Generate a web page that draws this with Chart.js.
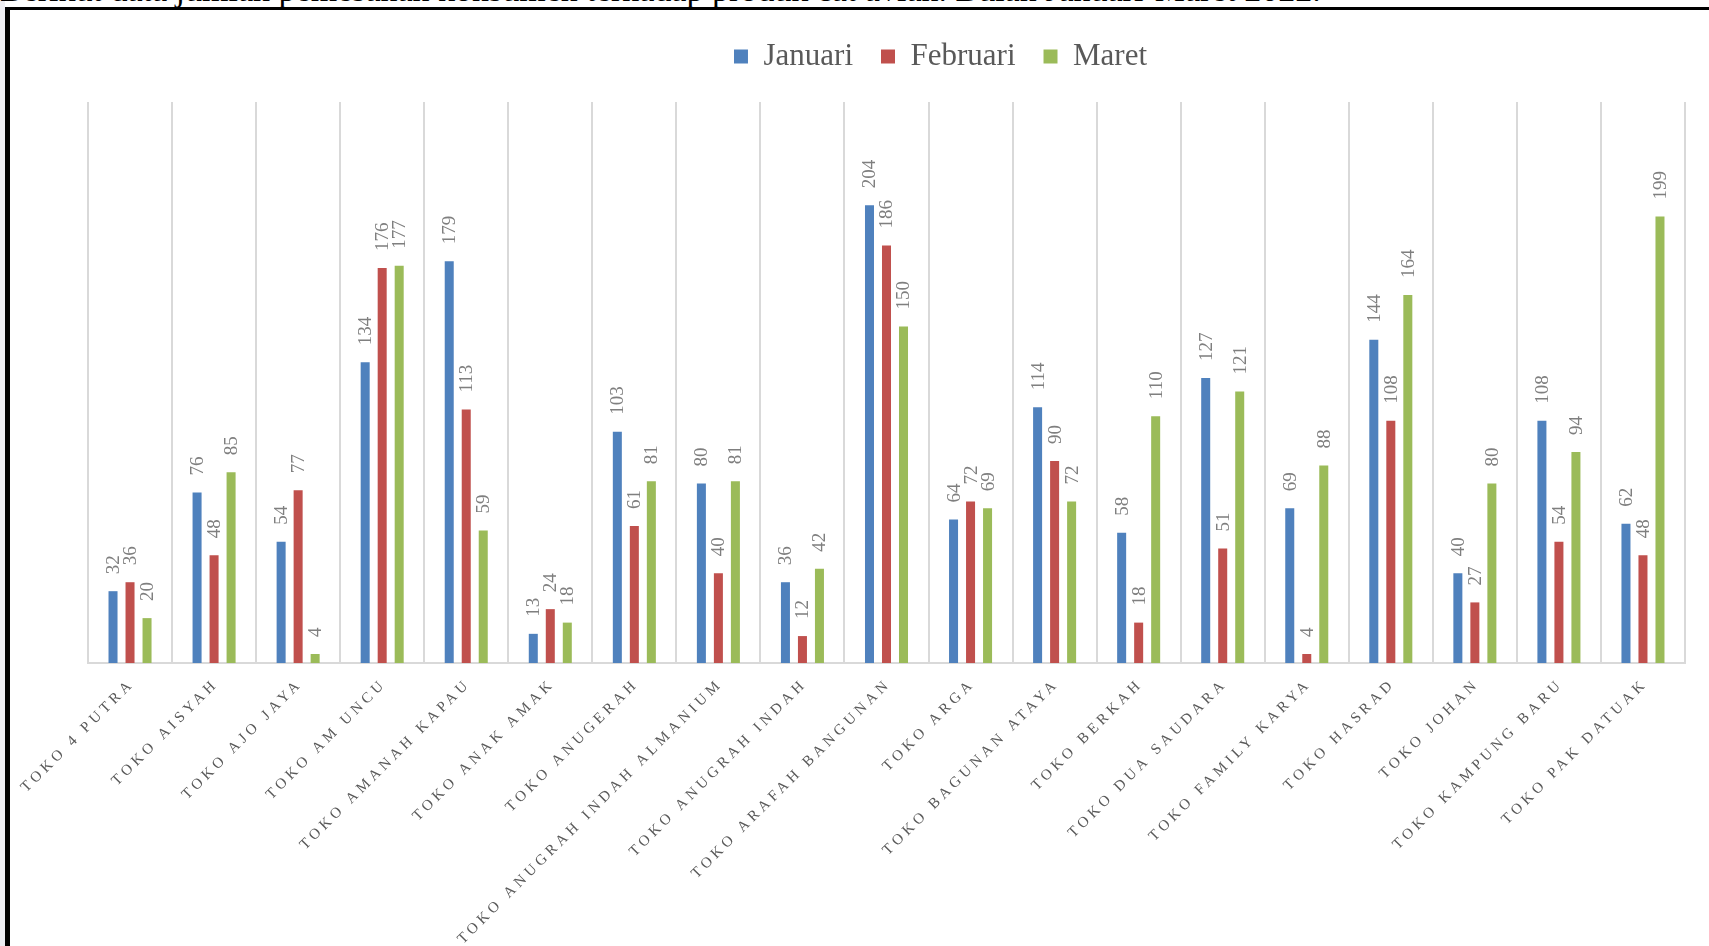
<!DOCTYPE html>
<html>
<head>
<meta charset="utf-8">
<script src="https://cdn.jsdelivr.net/npm/chart.js@4"></script>
<style>
    html, body { margin: 0; padding: 0; width: 1709px; height: 946px; overflow: hidden; background: #ffffff; }
    #leftStrip { position: absolute; left: 0; top: 0; width: 5px; height: 946px; background: #ededf2; }
    #topText { position: absolute; left: 0; top: -27px; white-space: nowrap; font-family: 'Liberation Serif', 'Times New Roman', serif; font-size: 34px; line-height: 34px; color: #000; }
    #frame { position: absolute; left: 5px; top: 7px; width: 1704px; height: 939px; border-left: 5px solid #000; border-top: 3px solid #000; box-sizing: border-box; background: #fff; }
    #chartBox { position: absolute; left: 10px; top: 10px; width: 1699px; height: 936px; }
</style>
</head>
<body>
<div id="leftStrip"></div>
<div id="topText">Berikut data jumlah pemesanan konsumen terhadap produk cat avian. Bulan Januari-Maret 2022.</div>
<div id="frame"></div>
<div id="chartBox"><canvas id="chart1" width="1699" height="936"></canvas></div>
<script>
var serifFont = "'Liberation Serif', 'Times New Roman', serif";
var labelGray = "#595959";
var valueGray = "#7f7f7f";

//Categories (stores)
var storeLabels = [
    "TOKO 4 PUTRA", "TOKO AISYAH", "TOKO AJO JAYA", "TOKO AM UNCU", "TOKO AMANAH KAPAU",
    "TOKO ANAK AMAK", "TOKO ANUGERAH", "TOKO ANUGRAH INDAH ALMANIUM", "TOKO ANUGRAH INDAH",
    "TOKO ARAFAH BANGUNAN", "TOKO ARGA", "TOKO BAGUNAN ATAYA", "TOKO BERKAH", "TOKO DUA SAUDARA",
    "TOKO FAMILY KARYA", "TOKO HASRAD", "TOKO JOHAN", "TOKO KAMPUNG BARU", "TOKO PAK DATUAK"
];

//Series values
var januariData = [32, 76, 54, 134, 179, 13, 103, 80, 36, 204, 64, 114, 58, 127, 69, 144, 40, 108, 62];
var februariData = [36, 48, 77, 176, 113, 24, 61, 40, 12, 186, 72, 90, 18, 51, 4, 108, 27, 54, 48];
var maretData = [20, 85, 4, 177, 59, 18, 81, 81, 42, 150, 69, 72, 110, 121, 88, 164, 80, 94, 199];

var seriesNames = ["Januari", "Februari", "Maret"];
var seriesColors = ["#4f81bd", "#c0504d", "#9bbb59"];

//Hidden value axis range
var yMin = 0;
var yMax = 250;

/**
 * Draw the value of each bar, rotated, above the bar
 */
var valueLabelsPlugin = {
    id: "valueLabels",
    afterDatasetsDraw: function(chart){
        var ctx = chart.ctx;
        chart.data.datasets.forEach((dataset, i) => {
            var meta = chart.getDatasetMeta(i);
            meta.data.forEach((bar, j) => {
                ctx.save();
                ctx.translate(bar.x + 1, bar.y - 17);
                ctx.rotate(-Math.PI / 2);
                ctx.font = "19px " + serifFont;
                ctx.fillStyle = valueGray;
                ctx.textAlign = "left";
                ctx.textBaseline = "middle";
                ctx.fillText(String(dataset.data[j]), 0, 0);
                ctx.restore();
            });
        });
    }
};

/**
 * Draw the store names under the axis at 45 degrees with letter spacing
 */
var storeLabelsPlugin = {
    id: "storeLabels",
    afterDraw: function(chart){
        var ctx = chart.ctx;
        var xScale = chart.scales.x;
        var spacing = 4;
        storeLabels.forEach((label, i) => {
            var x = xScale.getPixelForValue(i);
            ctx.save();
            ctx.translate(x - 6, chart.chartArea.bottom + 16);
            ctx.rotate(-Math.PI / 4);
            ctx.font = "15px " + serifFont;
            ctx.letterSpacing = spacing + "px";
            ctx.fillStyle = labelGray;
            ctx.textAlign = "right";
            ctx.textBaseline = "top";
            ctx.fillText(label, spacing, 0);
            ctx.restore();
        });
    }
};

/**
 * Move the legend, the chart is wider than the visible window
 */
var legendShiftPlugin = {
    id: "legendShift",
    afterLayout: function(chart){
        var shiftX = 54;
        var shiftY = -20;
        chart.legend.left += shiftX;
        chart.legend.right += shiftX;
        chart.legend.top += shiftY;
        chart.legend.bottom += shiftY;
    }
};

var datasetsArray = [januariData, februariData, maretData].map((data, i) => {
    return {
        label: seriesNames[i],
        data: data,
        backgroundColor: seriesColors[i],
        borderWidth: 0,
        categoryPercentage: 0.607,
        barPercentage: 0.53
    };
});

var ctx = document.getElementById("chart1").getContext("2d");
var chart1 = new Chart(ctx, {
    type: "bar",
    data: {
        labels: storeLabels,
        datasets: datasetsArray
    },
    options: {
        responsive: false,
        animation: false,
        layout: {
            padding: { left: 78, right: 24, top: 23, bottom: 283 }
        },
        plugins: {
            legend: {
                display: true,
                position: "top",
                labels: {
                    font: { family: serifFont, size: 31 },
                    color: labelGray,
                    boxWidth: 14,
                    boxHeight: 14,
                    padding: 28
                }
            },
            tooltip: { enabled: false }
        },
        scales: {
            x: {
                grid: {
                    display: true,
                    offset: true,
                    color: "#d9d9d9",
                    lineWidth: 2,
                    drawTicks: false
                },
                border: { display: true, color: "#d9d9d9", width: 2 },
                ticks: { display: false }
            },
            y: {
                display: false,
                min: yMin,
                max: yMax
            }
        }
    },
    plugins: [valueLabelsPlugin, storeLabelsPlugin, legendShiftPlugin]
});
</script>
</body>
</html>
